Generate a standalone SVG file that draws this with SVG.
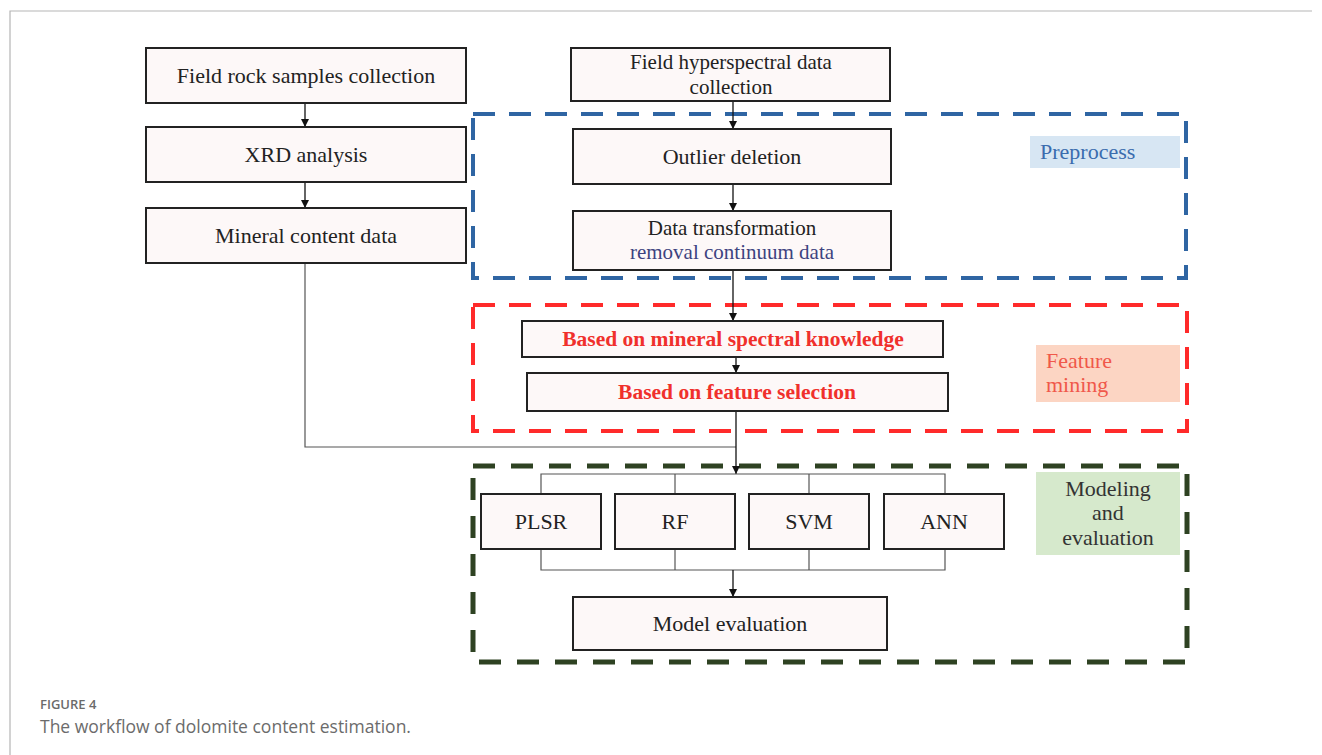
<svg xmlns="http://www.w3.org/2000/svg" width="1322" height="755" viewBox="0 0 1322 755">
<defs>
<marker id="ah" markerWidth="10" markerHeight="10" refX="5" refY="8" orient="0" markerUnits="userSpaceOnUse" viewBox="0 0 10 10">
<path d="M1,0 L9,0 L5,8 Z" fill="#111"/>
</marker>
<style>
.box{fill:#fdf8f8;stroke:#222;stroke-width:2}
.t{font-family:"Liberation Serif","DejaVu Serif",serif;font-size:22px;fill:#222;text-anchor:middle}
.rb{font-family:"Liberation Serif","DejaVu Serif",serif;font-size:21.5px;font-weight:bold;fill:#f0302c;text-anchor:middle}
.lbl{font-family:"Liberation Serif","DejaVu Serif",serif;font-size:22px}
.ln{stroke:#222;stroke-width:1.3;fill:none}
.lg{stroke:#555;stroke-width:1.2;fill:none}
.arr{stroke:#111;stroke-width:1.3;fill:none;marker-end:url(#ah)}
</style>
</defs>
<rect width="1322" height="755" fill="#fff"/>
<path d="M10,755 L10,11 L1312,11" fill="none" stroke="#b5b5b5" stroke-width="1.2"/>

<g id="groups">
<rect id="preprocess-frame" x="473" y="114" width="713" height="164" fill="none" stroke="#2f65a3" stroke-width="4" stroke-dasharray="22,14"/>
<rect id="feature-frame" x="473" y="305" width="714" height="126" fill="none" stroke="#ff2a2a" stroke-width="4" stroke-dasharray="22,14"/>
<rect id="model-frame" x="473" y="466" width="714" height="196" fill="none" stroke="#2e4222" stroke-width="5" stroke-dasharray="22,16"/>
</g>

<g id="label-preprocess">
<rect x="1030" y="136" width="150" height="32" fill="#d7e6f3"/>
<text x="1040" y="159" class="lbl" style="fill:#3a6cae">Preprocess</text>
</g>
<g id="label-feature">
<rect x="1036" y="345" width="144" height="57" fill="#fcd5c3"/>
<text x="1046" y="368" class="lbl" style="fill:#f0584a">Feature</text>
<text x="1046" y="392" class="lbl" style="fill:#f0584a">mining</text>
</g>
<g id="label-model">
<rect x="1036" y="472" width="144" height="83" fill="#d6e9cc"/>
<text x="1108" y="496" class="t" style="fill:#333">Modeling</text>
<text x="1108" y="520" class="t" style="fill:#333">and</text>
<text x="1108" y="545" class="t" style="fill:#333">evaluation</text>
</g>

<g id="connectors">
<line class="arr" x1="305" y1="103" x2="305" y2="127"/>
<line class="arr" x1="305" y1="182" x2="305" y2="208"/>
<polyline class="lg" points="305,263 305,447 736,447"/>
<line class="arr" x1="733" y1="101" x2="733" y2="129"/>
<line class="arr" x1="733" y1="184" x2="733" y2="211"/>
<line class="arr" x1="733" y1="270" x2="733" y2="321"/>
<line class="arr" x1="736" y1="357" x2="736" y2="373"/>
<line class="arr" x1="736" y1="411" x2="736" y2="474"/>
<polyline class="lg" points="541,494 541,474 945,474 945,494"/>
<line class="lg" x1="675" y1="474" x2="675" y2="494"/>
<line class="lg" x1="809" y1="474" x2="809" y2="494"/>
<polyline class="lg" points="541,549 541,570 945,570 945,549"/>
<line class="lg" x1="675" y1="549" x2="675" y2="570"/>
<line class="lg" x1="809" y1="549" x2="809" y2="570"/>
<line class="arr" x1="733" y1="570" x2="733" y2="597"/>
</g>

<g id="n-rock"><rect class="box" x="146" y="48" width="320" height="55"/><text class="t" x="306" y="83">Field rock samples collection</text></g>
<g id="n-xrd"><rect class="box" x="146" y="127" width="320" height="55"/><text class="t" x="306" y="162">XRD analysis</text></g>
<g id="n-mineral"><rect class="box" x="146" y="208" width="320" height="55"/><text class="t" x="306" y="243">Mineral content data</text></g>

<g id="n-hyper"><rect class="box" x="571" y="48" width="319" height="53"/><text class="t" x="731" y="69" style="font-size:21px">Field hyperspectral data</text><text class="t" x="731" y="94" style="font-size:21px">collection</text></g>
<g id="n-outlier"><rect class="box" x="573" y="129" width="318" height="55"/><text class="t" x="732" y="164">Outlier deletion</text></g>
<g id="n-transform"><rect class="box" x="573" y="211" width="318" height="59"/><text class="t" x="732" y="235" style="font-size:21px">Data transformation</text><text class="t" x="732" y="259" style="font-size:21px;fill:#3d4380">removal continuum data</text></g>

<g id="n-knowledge"><rect class="box" x="522" y="321" width="421" height="36"/><text class="rb" x="733" y="346">Based on mineral spectral knowledge</text></g>
<g id="n-selection"><rect class="box" x="527" y="373" width="421" height="38"/><text class="rb" x="737" y="399">Based on feature selection</text></g>

<g id="n-plsr"><rect class="box" x="481" y="494" width="120" height="55"/><text class="t" x="541" y="529">PLSR</text></g>
<g id="n-rf"><rect class="box" x="615" y="494" width="120" height="55"/><text class="t" x="675" y="529">RF</text></g>
<g id="n-svm"><rect class="box" x="749" y="494" width="120" height="55"/><text class="t" x="809" y="529">SVM</text></g>
<g id="n-ann"><rect class="box" x="884" y="494" width="120" height="55"/><text class="t" x="944" y="529">ANN</text></g>
<g id="n-eval"><rect class="box" x="573" y="597" width="314" height="53"/><text class="t" x="730" y="631">Model evaluation</text></g>

<g id="caption">
<text x="40" y="709" style="font-family:'Open Sans','Noto Sans',sans-serif;font-size:13px;font-weight:600;fill:#6b6b6b">FIGURE 4</text>
<text x="40" y="733" style="font-family:'Open Sans','Noto Sans',sans-serif;font-size:17.5px;fill:#6b6b6b">The workflow of dolomite content estimation.</text>
</g>
</svg>
